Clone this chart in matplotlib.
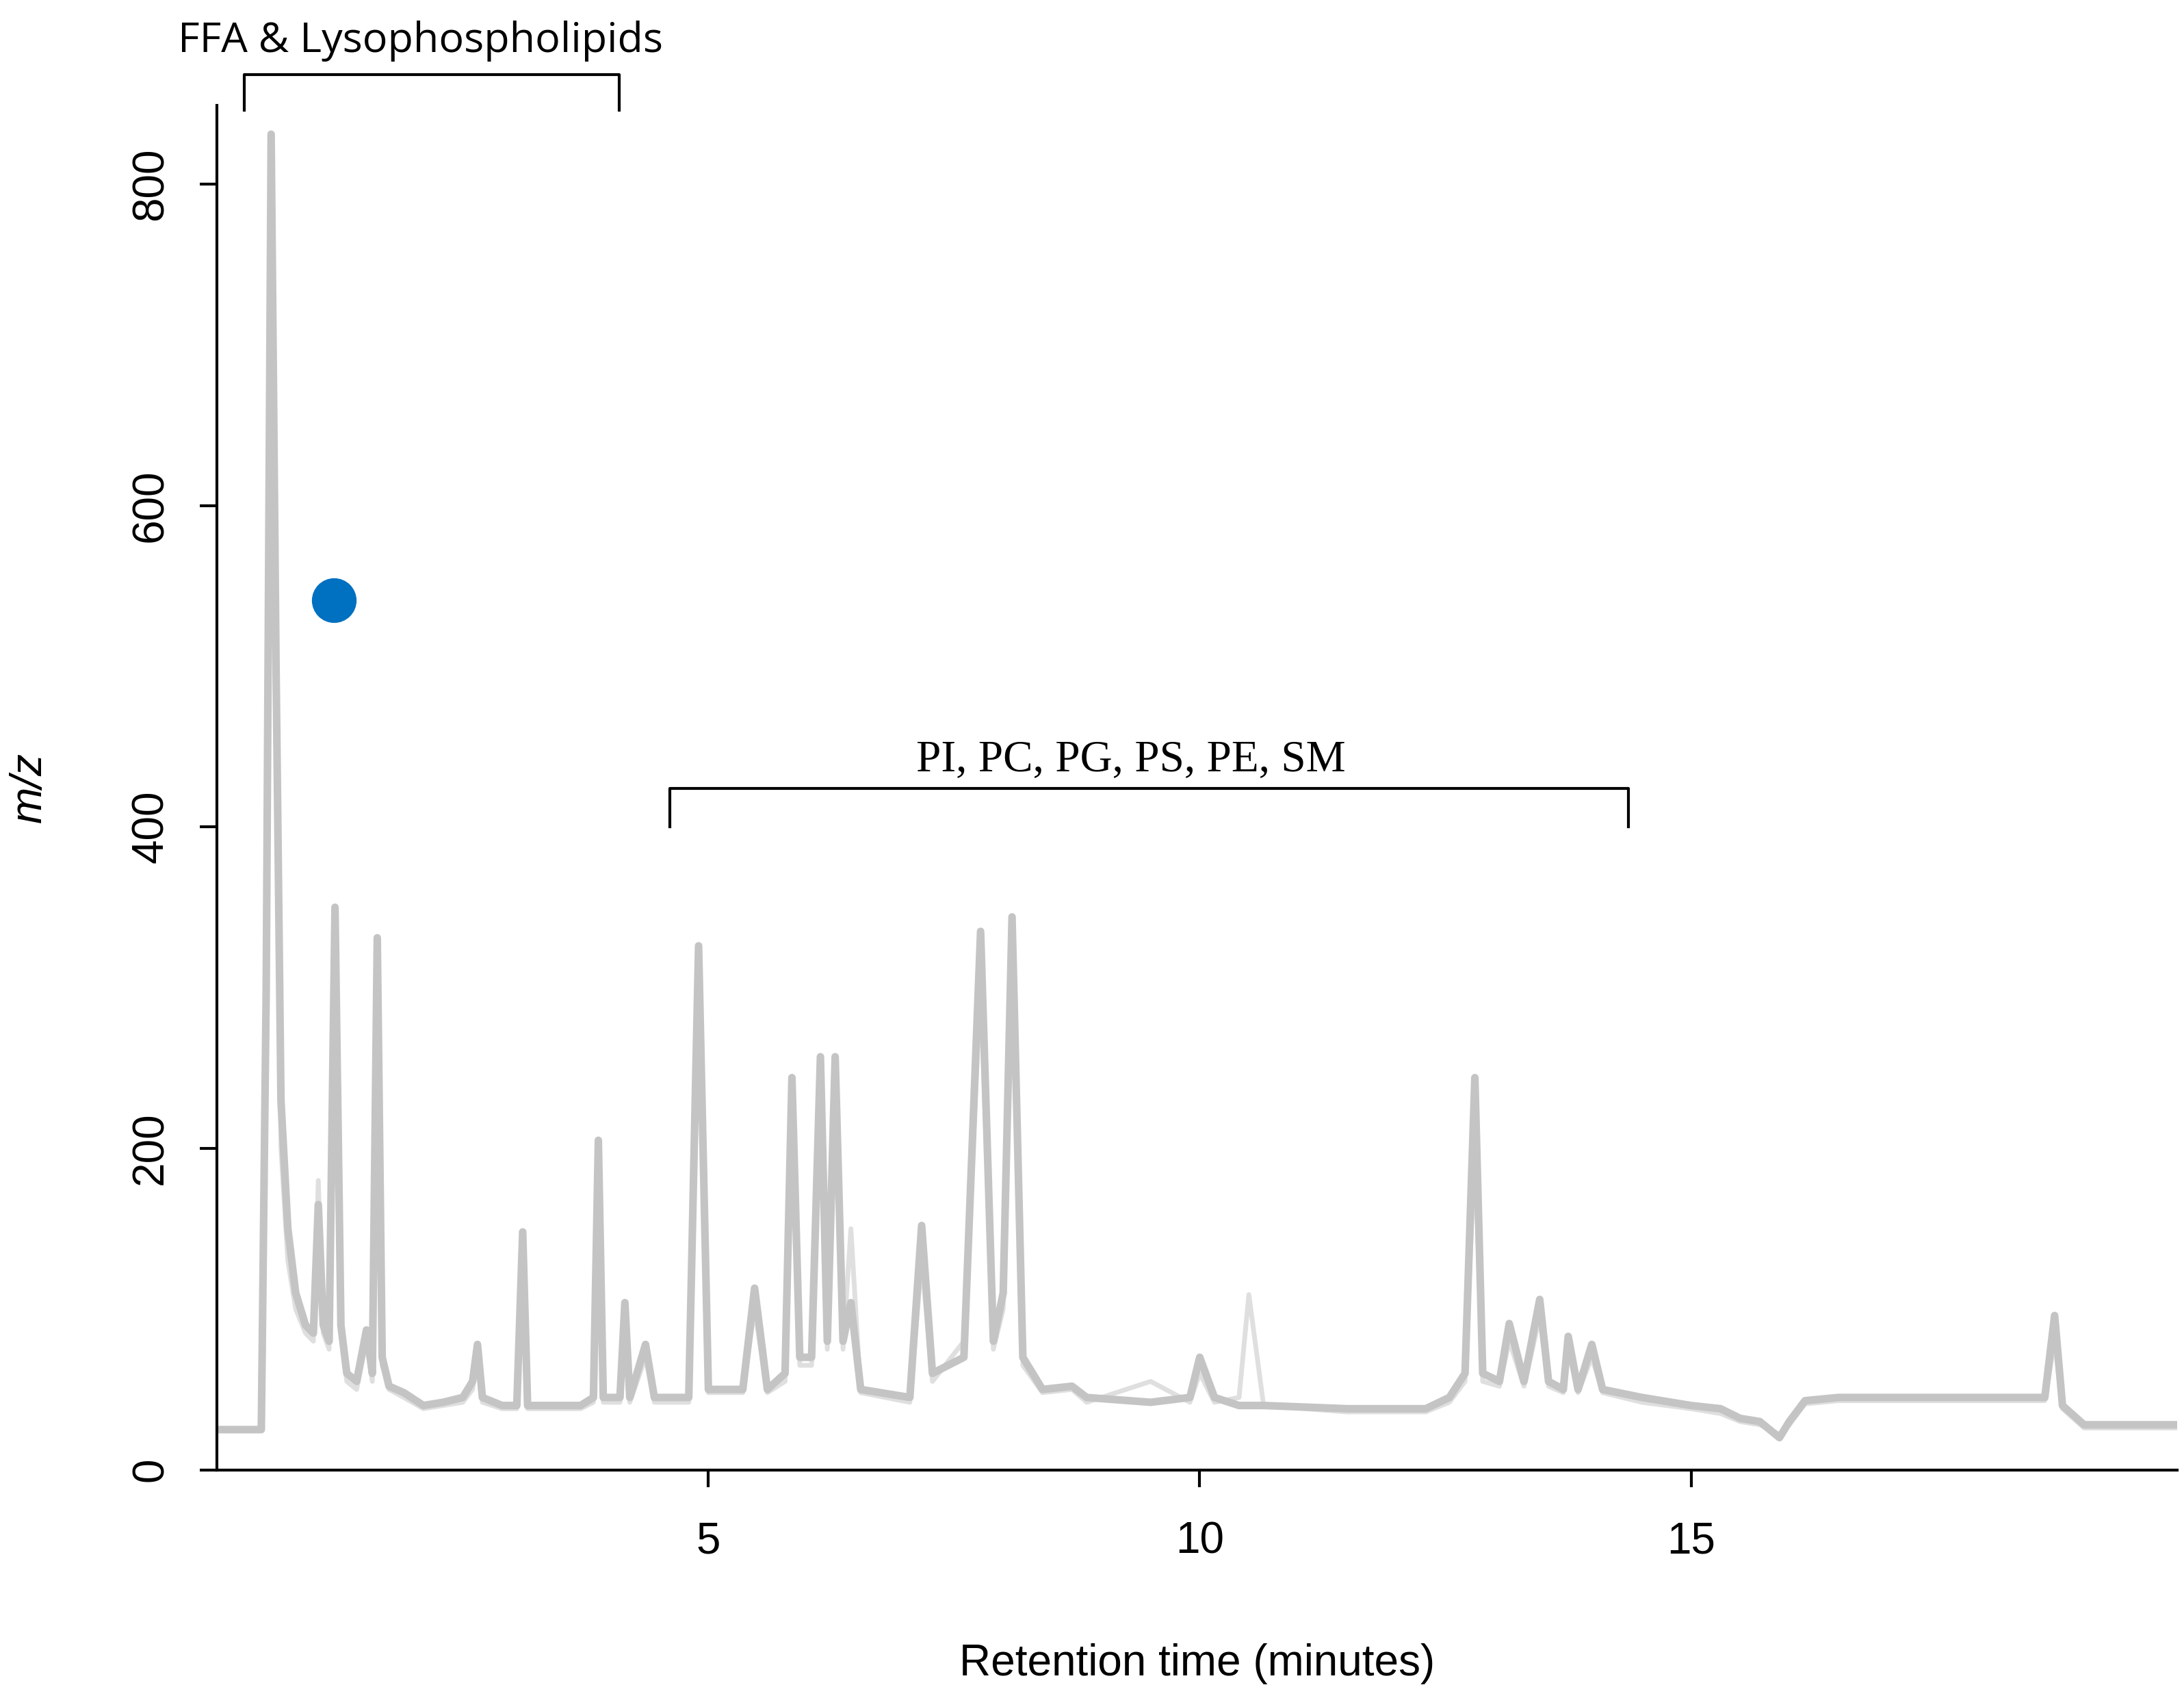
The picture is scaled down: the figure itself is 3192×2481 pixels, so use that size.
import matplotlib
matplotlib.use("Agg")
import matplotlib.pyplot as plt

# main trace (retention time, m/z)
t_a = [0.0, 0.45, 0.5, 0.55, 0.6, 0.65, 0.72, 0.8, 0.9, 0.98, 1.03, 1.08, 1.14, 1.2, 1.26, 1.32,
       1.42, 1.52, 1.58, 1.63, 1.68, 1.75, 1.9, 2.1, 2.3, 2.5, 2.6, 2.65, 2.7, 2.9, 3.05, 3.11, 3.16,
       3.4, 3.7, 3.83, 3.88, 3.93, 4.1, 4.15, 4.2, 4.36, 4.45, 4.8, 4.9, 5.0, 5.35, 5.47, 5.6, 5.78,
       5.85, 5.93, 6.05, 6.14, 6.21, 6.29, 6.37, 6.45, 6.55, 7.05, 7.17, 7.28, 7.6, 7.77, 7.9, 8.0,
       8.09, 8.2, 8.4, 8.7, 8.85, 9.5, 9.9, 10.0, 10.15, 10.4, 10.5, 10.65, 11.5, 12.3, 12.54, 12.7,
       12.8, 12.88, 13.05, 13.15, 13.3, 13.46, 13.55, 13.7, 13.75, 13.85, 13.99, 14.1, 14.5, 15.0,
       15.3, 15.5, 15.7, 15.9, 16.0, 16.16, 16.5, 17.5, 18.6, 18.7, 18.78, 19.0, 19.95]
y_a = [25, 25, 300, 831, 500, 230, 150, 110, 90, 85, 165, 90, 80, 350, 90, 60,
       55, 87, 60, 331, 70, 52, 48, 40, 42, 45, 55, 78, 45, 40, 40, 148, 40,
       40, 40, 45, 205, 45, 45, 104, 45, 78, 45, 45, 326, 50, 50, 113, 50, 60,
       244, 70, 70, 257, 80, 257, 80, 104, 50, 45, 152, 60, 70, 335, 80, 110,
       344, 70, 50, 52, 45, 42, 45, 70, 45, 40, 40, 40, 38, 38, 45, 60,
       244, 60, 55, 91, 55, 106, 55, 50, 83, 50, 78, 50, 45, 40,
       38, 32, 30, 20, 30, 43, 45, 45, 45, 96, 40, 28, 28]

# secondary trace (lighter), same time grid
y_b = [25, 25, 250, 760, 450, 200, 130, 100, 85, 80, 180, 85, 75, 300, 85, 55,
       50, 80, 55, 290, 65, 50, 45, 38, 40, 42, 50, 70, 42, 38, 38, 120, 38,
       38, 38, 42, 180, 42, 42, 90, 42, 70, 42, 42, 300, 48, 48, 100, 48, 55,
       220, 65, 65, 240, 75, 240, 75, 150, 48, 42, 130, 55, 80, 300, 75, 100,
       320, 65, 48, 50, 42, 55, 42, 60, 42, 45, 109, 40, 36, 36, 42, 55,
       200, 55, 52, 80, 52, 95, 52, 48, 75, 48, 70, 48, 42, 38,
       35, 30, 28, 22, 28, 41, 43, 43, 43, 80, 38, 26, 26]

dot_t, dot_y = [1.19], [541]

fig = plt.figure(figsize=(31.92, 24.81), dpi=100)
ax = fig.add_axes([0.0994, 0.1344, 0.8976, 0.8036])
ax.plot(t_a, y_b, color="#dcdcdc", lw=5, alpha=0.9)
ax.plot(t_a, y_a, color="#c4c4c4", lw=8)
ax.plot(dot_t, dot_y, "o", color="#0070C0", markersize=46)

ax.set_xlim(0, 19.95)
ax.set_ylim(0, 849)
ax.set_xticks([5, 10, 15])
ax.set_yticks([0, 200, 400, 600, 800])
for s in ["top", "right"]:
    ax.spines[s].set_visible(False)
for s in ["left", "bottom"]:
    ax.spines[s].set_linewidth(3)
ax.tick_params(width=3, length=18, labelsize=46)
ax.tick_params(axis="x", pad=36)
ax.tick_params(axis="y", pad=30)
for lbl in ax.get_xticklabels() + ax.get_yticklabels():
    lbl.set_family("Liberation Sans")
for lbl in ax.get_yticklabels():
    lbl.set_rotation(90)
    lbl.set_va("center")
ax.set_xlabel("Retention time (minutes)", fontsize=46, labelpad=85, family="Liberation Sans")
ax.set_ylabel("m/z", fontsize=46, style="italic", labelpad=85, family="Liberation Sans")

# brackets
ax.plot([0.28, 0.28, 4.09, 4.09], [846, 868, 868, 846], color="black", lw=3, clip_on=False)
ax.text(2.07, 876, "FFA & Lysophospholipids", ha="center", va="bottom", fontsize=44,
        family="Open Sans", clip_on=False)
ax.plot([4.61, 4.61, 14.36, 14.36], [400, 424, 424, 400], color="black", lw=3)
ax.text(9.3, 429, "PI, PC, PG, PS, PE, SM", ha="center", va="bottom", fontsize=47,
        family="Liberation Serif")

fig.savefig("out.png", dpi=100)
